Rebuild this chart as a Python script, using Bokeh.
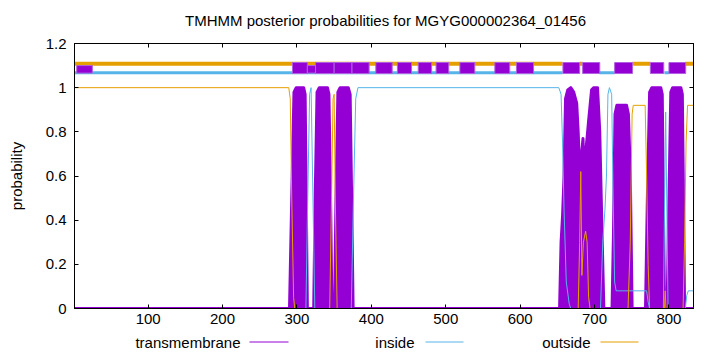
from bokeh.plotting import figure
from bokeh.models import Range1d, LinearAxis, FixedTicker
from bokeh.core.properties import value
from bokeh.layouts import column
from bokeh.embed import file_html
from bokeh.resources import INLINE

# ---------------- data ----------------
title_text = ["TMHMM posterior probabilities for MGYG000002364_01456"]
y_label = "probability"
series_names = ["transmembrane", "inside", "outside"]

x_ticks = [100, 200, 300, 400, 500, 600, 700, 800]
y_ticks = [0, 0.2, 0.4, 0.6, 0.8, 1.0, 1.2]
y_tick_labels = ["0", "0.2", "0.4", "0.6", "0.8", "1", "1.2"]

tm_pos = [1, 290, 293, 296, 299, 309, 311, 312.5, 314,
          322.5, 324.5, 327, 330, 341, 343, 345, 347,
          350.5, 352.5, 355, 358, 369, 371.5, 373.5, 375.5,
          653, 655, 657, 659, 661, 664, 668, 672, 676, 678, 680, 682, 684.5, 685.5,
          688, 692, 696, 699, 704, 707, 710, 712.5,
          723.5, 725.5, 727.5, 730, 743, 745.5, 748, 750.5,
          768.5, 771, 774, 777, 789, 791, 792.5, 794,
          797.5, 800, 802.5, 805, 816, 818, 819.5, 821, 833]
tm_prob = [0, 0, 0.5, 0.98, 1.0, 1.0, 0.97, 0.5, 0,
           0, 0.5, 0.98, 1.0, 1.0, 0.97, 0.55, 0,
           0, 0.5, 0.98, 1.0, 1.0, 0.97, 0.5, 0,
           0, 0.3, 0.42, 0.6, 0.95, 0.99, 1.0, 0.98, 0.93, 0.8, 0.62, 0.68, 0.77, 0.66,
           0.7, 0.85, 0.99, 1.0, 1.0, 0.8, 0.35, 0,
           0, 0.35, 0.88, 0.92, 0.92, 0.88, 0.62, 0,
           0, 0.5, 0.98, 1.0, 1.0, 0.97, 0.5, 0,
           0, 0.5, 0.98, 1.0, 1.0, 0.97, 0.5, 0, 0]

in_pos = [1, 312, 314.5, 317, 319, 321, 324,
          373, 376, 379, 382, 652, 655, 657, 659, 662, 666, 668,
          708, 711, 714, 716, 718, 720, 723, 725, 727, 729, 770, 772, 774,
          792.5, 795.6, 798.8, 822, 824, 826, 833]
in_prob = [0, 0, 0.5, 0.97, 1.0, 0.6, 0,
           0, 0.5, 0.95, 1.0, 1.0, 0.97, 0.75, 0.45, 0.12, 0.02, 0,
           0, 0.3, 0.45, 0.6, 0.97, 1.0, 0.97, 0.5, 0.12, 0.08, 0.08, 0.03, 0,
           0, 0.89, 0, 0, 0.06, 0.08, 0.08]

out_pos = [1, 289, 291, 293, 295.5, 297,
           344, 346.5, 348.5, 350, 351.5, 354,
           678, 680, 681.5, 683, 685, 688, 690, 692, 694,
           745, 748, 750.5, 752, 768, 770, 772, 774,
           794, 795, 796, 819, 821, 823, 825, 833]
out_prob = [1.0, 1.0, 0.95, 0.5, 0.05, 0,
            0, 0.5, 0.95, 0.97, 0.5, 0,
            0, 0.3, 0.62, 0.15, 0.3, 0.35, 0.3, 0.05, 0,
            0, 0.3, 0.88, 0.92, 0.92, 0.6, 0.2, 0,
            0, 0.08, 0, 0, 0.3, 0.75, 0.92, 0.92]

# predicted topology bars along the top
tm_bar_start = [294, 325, 350, 374, 406, 435, 463, 487, 519, 566, 595, 657.5, 684, 727, 775, 800]
tm_bar_end = [314, 350, 374, 397, 428, 454, 481, 504, 539, 586, 618, 680, 707, 751, 793, 822.5]
tm_thin_start = [4, 314]
tm_thin_end = [25, 325]
out_bar_start = [1, 680, 751, 822]
out_bar_end = [657, 684, 775, 833]
in_bar_start = [1, 707, 794]
in_bar_end = [657, 727, 800]

# ---------------- styles ----------------
PURPLE = "#9400D3"
BLUE = "#56B4E9"
ORANGE = "#E69F00"
COLORS = [PURPLE, BLUE, ORANGE]
FONT = "Liberation Sans"
FS = "15px"

TITLE_H = 30
MAIN_H = 302
LEG_H = 20
FRAME_L = 74
FRAME_R = 693


def strip(height):
    f = figure(width=720, height=height, output_backend="svg", toolbar_location=None, title=None,
               x_range=Range1d(FRAME_L, FRAME_R), y_range=Range1d(0, height),
               min_border_left=FRAME_L, min_border_right=720 - FRAME_R,
               min_border_top=0, min_border_bottom=0,
               background_fill_color="white", border_fill_color="white")
    f.axis.visible = False
    f.xgrid.grid_line_color = None
    f.ygrid.grid_line_color = None
    f.outline_line_color = None
    return f


# ---------------- title strip ----------------
ttl = strip(TITLE_H)
ttl.text(x=[385], y=[10], text=title_text, text_align="center", text_baseline="middle",
         text_font=value(FONT), text_font_size=FS, text_color="black")

# ---------------- main plot ----------------
p = figure(width=720, height=MAIN_H, output_backend="svg", toolbar_location=None, title=None,
           x_range=Range1d(1, 833), y_range=Range1d(0, 1.2),
           min_border_left=FRAME_L, min_border_right=720 - FRAME_R, min_border_top=13,
           min_border_bottom=24,
           background_fill_color="white", border_fill_color="white")
p.xgrid.grid_line_color = None
p.ygrid.grid_line_color = None
p.outline_line_color = "black"
p.outline_line_alpha = 1.0
p.outline_line_width = 1


def style_axis(ax, ticks, show_labels):
    ax.ticker = FixedTicker(ticks=ticks)
    ax.major_tick_in = 4
    ax.major_tick_out = 0
    ax.minor_tick_in = 0
    ax.minor_tick_out = 0
    ax.axis_line_color = "black"
    ax.major_tick_line_color = "black"
    ax.major_label_text_font = FONT
    ax.major_label_text_color = "black"
    if show_labels:
        ax.major_label_text_font_size = FS
        ax.major_label_standoff = 5
    else:
        ax.major_label_text_font_size = "1px"
        ax.major_label_text_alpha = 0
        ax.major_label_standoff = 0


style_axis(p.xaxis[0], x_ticks, True)
style_axis(p.yaxis[0], y_ticks, True)
yax = p.yaxis[0]
yax.major_label_overrides = {t: l for t, l in zip(y_ticks, y_tick_labels)}
yax.major_label_standoff = 8
yax.axis_label = y_label
yax.axis_label_text_font = FONT
yax.axis_label_text_font_size = FS
yax.axis_label_text_font_style = "normal"
yax.axis_label_text_color = "black"
yax.axis_label_standoff = 18

top_ax = LinearAxis()
style_axis(top_ax, x_ticks, False)
p.add_layout(top_ax, "above")
right_ax = LinearAxis()
style_axis(right_ax, y_ticks, False)
p.add_layout(right_ax, "right")

# transmembrane probability (thick filled peaks)
p.varea(x=tm_pos, y1=0, y2=tm_prob, fill_color=PURPLE)
p.line(tm_pos, tm_prob, line_color=PURPLE, line_width=3, line_join="round")
# inside / outside
p.line(in_pos, in_prob, line_color=BLUE, line_width=1)
p.line(out_pos, out_prob, line_color=ORANGE, line_width=1)

# topology bars
p.segment(x0=out_bar_start, x1=out_bar_end, y0=1.108, y1=1.108, line_color=ORANGE, line_width=4)
p.segment(x0=in_bar_start, x1=in_bar_end, y0=1.068, y1=1.068, line_color=BLUE, line_width=3)
p.quad(left=tm_bar_start, right=tm_bar_end, bottom=1.064, top=1.114,
       fill_color=PURPLE, line_color="#b060e0", line_width=1)
p.quad(left=tm_thin_start, right=tm_thin_end, bottom=1.066, top=1.100,
       fill_color=PURPLE, line_color="#b060e0", line_width=1)

# ---------------- legend strip below ----------------
leg = strip(LEG_H)
leg_text_right = [240, 414, 590]
leg_line_x0 = [249, 425, 600]
leg_line_x1 = [288, 463, 638]
leg_y = [10.5, 10.5, 10.5]
leg.text(x=leg_text_right, y=leg_y, text=series_names, text_align="right", text_baseline="middle",
         text_font=value(FONT), text_font_size=FS, text_color="black")
leg.segment(x0=leg_line_x0, x1=leg_line_x1, y0=leg_y, y1=leg_y, line_color=COLORS, line_width=1)

layout = column(ttl, p, leg, spacing=0)
open("out.html", "w").write(file_html(layout, INLINE))
